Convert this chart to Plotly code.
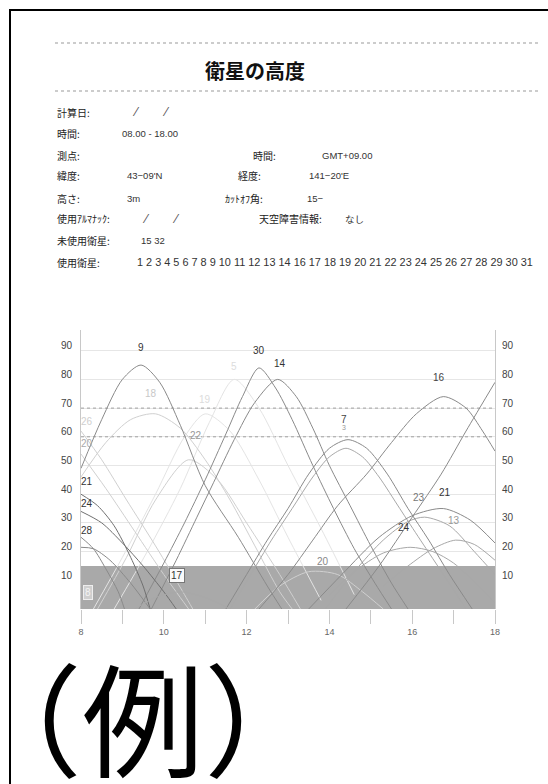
import plotly.graph_objects as go

# ---------------- data ----------------
title_text = "衛星の高度"
info_labels = ["計算日:", "時間:", "測点:", "緯度:", "高さ:", "使用ｱﾙﾏﾅｯｸ:", "未使用衛星:", "使用衛星:"]
info_values = ["", "08.00 - 18.00", "", "43−09'N", "3m", "", "15 32",
               "1 2 3 4 5 6 7 8 9 10 11 12 13 14 16 17 18 19 20 21 22 23 24 25 26 27 28 29 30 31"]
right_labels = ["時間:", "経度:", "ｶｯﾄｵﾌ角:", "天空障害情報:"]
right_values = ["GMT+09.00", "141−20'E", "15−", "なし"]
example_text = "（例）"

hours = list(range(8, 19))
hour_labels = [str(h) if h % 2 == 0 else "" for h in hours]
elev_ticks = [10, 20, 30, 40, 50, 60, 70, 80, 90]
cutoff = 15
dotted_levels = [60, 70]

# satellite elevation tracks (time in hours, elevation in degrees)
sat9_t = [8.0, 8.5, 9.0, 9.45, 9.9, 10.4, 11.0, 11.8, 12.5, 12.85]
sat9_e = [49, 66, 80, 85, 79, 64, 43, 25, 8, 0]
sat18_t = [8.0, 8.6, 9.2, 9.8, 10.4, 11.0, 11.6, 12.2, 12.8, 13.1]
sat18_e = [46, 58, 66, 68, 63, 52, 38, 22, 6, 0]
sat30_t = [9.4, 10.0, 10.5, 11.0, 11.5, 11.9, 12.3, 12.7, 13.1, 13.6, 14.1, 14.6, 15.1, 15.5]
sat30_e = [0, 16, 30, 45, 61, 74, 84, 77, 66, 50, 35, 21, 9, 0]
sat14_t = [9.7, 10.3, 10.8, 11.2, 11.7, 12.2, 12.75, 13.2, 13.6, 14.0, 14.5, 15.0, 15.5, 15.9]
sat14_e = [0, 17, 32, 44, 59, 72, 80, 74, 63, 50, 36, 22, 9, 0]
sat7_t = [11.5, 12.0, 12.5, 13.0, 13.5, 14.0, 14.45, 14.9, 15.4, 15.9, 16.4, 16.9, 17.45]
sat7_e = [0, 12, 24, 35, 47, 56, 59, 56, 47, 35, 24, 12, 0]
sat3_t = [11.6, 12.1, 12.6, 13.1, 13.6, 14.0, 14.4, 14.8, 15.2, 15.7, 16.2, 16.8, 17.3]
sat3_e = [0, 12, 24, 35, 46, 53, 56, 53, 46, 35, 24, 11, 0]
sat16_t = [12.3, 13.0, 13.6, 14.2, 14.9, 15.5, 16.1, 16.75, 17.3, 17.7, 18.0]
sat16_e = [0, 12, 24, 36, 47, 58, 68, 74, 70, 62, 55]
sat25_t = [14.4, 15.2, 16.0, 16.7, 17.3, 18.0]
sat25_e = [0, 15, 32, 47, 62, 79]
sat21r_t = [13.5, 14.3, 15.2, 16.0, 16.75, 17.4, 18.0]
sat21r_e = [0, 12, 25, 32.5, 35, 31, 23]
sat23_t = [13.9, 14.6, 15.3, 15.9, 16.3, 16.9, 17.5, 18.0]
sat23_e = [0, 13, 24, 30.5, 32, 29, 20, 12]
sat24r_t = [14.0, 14.6, 15.3, 15.95, 16.5, 17.0, 17.6, 18.0]
sat24r_e = [5, 13, 19.5, 21.5, 20, 16, 8, 2]
sat13_t = [15.3, 15.9, 16.5, 17.05, 17.5, 18.0]
sat13_e = [8, 15, 21, 24, 22.5, 17]
sat21l_t = [8.0, 8.4, 8.8, 9.2, 9.5, 9.67]
sat21l_e = [40, 36, 29, 18, 8, 0]
sat24l_t = [8.0, 8.5, 9.0, 9.5, 10.0, 10.3]
sat24l_e = [34, 30, 23, 15, 6, 0]
sat28_t = [8.0, 8.3, 8.6, 8.9, 9.05]
sat28_e = [25, 21, 14, 6, 0]
sat8_t = [8.0, 8.3, 8.7, 9.2, 9.67]
sat8_e = [21.5, 21, 17, 9, 0]
sat17_t = [9.3, 9.8, 10.4, 11.0, 11.6]
sat17_e = [0, 4, 6, 4, 0]
sat20r_t = [12.2, 12.8, 13.5, 14.2, 14.8, 15.3]
sat20r_e = [0, 8, 13, 12, 6, 0]
sat5_t = [8.8, 9.6, 10.4, 11.1, 11.7, 12.3, 13.0, 13.8, 14.6]
sat5_e = [0, 20, 42, 65, 80, 70, 50, 28, 5]
sat19_t = [8.3, 9.0, 9.8, 10.5, 11.0, 11.6, 12.3, 13.0, 13.8]
sat19_e = [0, 18, 40, 60, 68, 62, 45, 25, 3]
sat22_t = [8.4, 9.1, 9.8, 10.6, 11.3, 12.0, 12.8, 13.3]
sat22_e = [0, 18, 38, 52, 45, 30, 12, 0]
sat26_t = [8.0, 8.5, 9.1, 9.8, 10.5, 10.7]
sat26_e = [62, 52, 38, 22, 5, 0]
sat20l_t = [8.0, 8.6, 9.3, 10.0, 10.6]
sat20l_e = [54, 42, 27, 12, 0]

label_text = ["9", "18", "30", "14", "5", "19", "22", "26", "20", "21", "24", "28",
              "7", "3", "16", "23", "21", "24", "13", "20", "17", "8"]
label_t = [9.45, 9.7, 12.3, 12.8, 11.7, 11.0, 10.78, 8.15, 8.15, 8.15, 8.15, 8.15,
           14.35, 14.35, 16.64, 16.16, 16.8, 15.8, 17.0, 13.85, 10.32, 8.17]
label_e = [91, 75, 90, 85.7, 84.5, 73, 60.3, 65.2, 57.5, 44.3, 36.6, 27.2,
           66, 63.3, 80.5, 39, 40.7, 28.5, 31, 16.4, 11.8, 5.6]

# ---------------- styles ----------------
DARK, MID, LIGHT, FAINT = "#8a8a8a", "#a8a8a8", "#d0d0d0", "#e4e4e4"
tracks = [
    (sat5_t, sat5_e, FAINT), (sat19_t, sat19_e, FAINT), (sat26_t, sat26_e, LIGHT),
    (sat18_t, sat18_e, LIGHT), (sat22_t, sat22_e, LIGHT), (sat20l_t, sat20l_e, LIGHT),
    (sat20r_t, sat20r_e, LIGHT), (sat13_t, sat13_e, MID), (sat23_t, sat23_e, MID),
    (sat9_t, sat9_e, DARK), (sat30_t, sat30_e, DARK), (sat14_t, sat14_e, DARK),
    (sat7_t, sat7_e, DARK), (sat3_t, sat3_e, MID), (sat16_t, sat16_e, DARK),
    (sat25_t, sat25_e, DARK), (sat21r_t, sat21r_e, DARK), (sat24r_t, sat24r_e, MID),
    (sat21l_t, sat21l_e, "#707070"), (sat24l_t, sat24l_e, "#707070"),
    (sat28_t, sat28_e, DARK), (sat8_t, sat8_e, DARK), (sat17_t, sat17_e, MID),
]
label_colors = ["#333", "#c8c8c8", "#333", "#333", "#dcdcdc", "#dcdcdc", "#999", "#cfcfcf",
                "#aaa", "#333", "#333", "#333", "#444", "#999", "#444", "#777", "#333",
                "#333", "#999", "#888", "#333", "#f4f4f4"]

W, H = 548, 784
L, R, T, B = 81, 53, 330, 175
PW, PH = W - L - R, H - T - B
def px(x): return (x - L) / PW
def py(y): return (H - B - y) / PH

fig = go.Figure()
for t, e, c in tracks:
    fig.add_trace(go.Scatter(x=t, y=e, mode="lines", line=dict(color=c, width=1, shape="spline", smoothing=0.8),
                             hoverinfo="skip", showlegend=False, cliponaxis=True))
# invisible trace for right axis
fig.add_trace(go.Scatter(x=[hours[0]], y=[elev_ticks[0]], yaxis="y2", mode="markers",
                         marker=dict(opacity=0), showlegend=False, hoverinfo="skip"))

ann = []
for txt, t, e, c in zip(label_text, label_t, label_e, label_colors):
    a = dict(x=t, y=e, xref="x", yref="y", text=txt, showarrow=False,
             font=dict(family="Liberation Sans", size=10 if txt != "3" else 7, color=c))
    if txt == "17" and t > 10:
        a.update(bgcolor="#fafafa", bordercolor="#777", borderwidth=1, borderpad=1)
    if txt == "8" and e < 10:
        a.update(bgcolor="#cfcfcf", bordercolor="#eeeeee", borderwidth=1, borderpad=1)
    ann.append(a)

CJK = "Noto Sans CJK JP"
ann.append(dict(x=px(255), y=py(70), xref="paper", yref="paper", text="<b>" + title_text + "</b>",
                showarrow=False, xanchor="center", yanchor="middle",
                font=dict(family=CJK, size=20, color="#111")))
row_y = [112, 133, 155, 176, 198, 219, 240, 262]
val_x = [0, 120, 0, 125, 125, 0, 139, 135]
for lab, val, y, vx in zip(info_labels, info_values, row_y, val_x):
    ann.append(dict(x=px(55), y=py(y), xref="paper", yref="paper", text=lab, showarrow=False,
                    xanchor="left", yanchor="middle", font=dict(family=CJK, size=10, color="#222")))
    if val:
        ann.append(dict(x=px(vx), y=py(y), xref="paper", yref="paper", text=val, showarrow=False,
                        xanchor="left", yanchor="middle",
                        font=dict(family="Liberation Sans", size=10.9 if len(val) > 20 else 9.5, color="#333")))
for sx, y in [(136, 112), (166, 112), (146, 219), (176, 219)]:
    ann.append(dict(x=px(sx), y=py(y), xref="paper", yref="paper", text="⁄", showarrow=False,
                    xanchor="center", yanchor="middle", font=dict(family="DejaVu Sans", size=12, color="#555")))
rlab_x = [251, 236, 223, 257]
rval_x = [320, 307, 305, 343]
rrow_y = [155, 176, 198, 219]
for lab, val, lx, vx, y in zip(right_labels, right_values, rlab_x, rval_x, rrow_y):
    ann.append(dict(x=px(lx), y=py(y), xref="paper", yref="paper", text=lab, showarrow=False,
                    xanchor="left", yanchor="middle", font=dict(family=CJK, size=10, color="#222")))
    ann.append(dict(x=px(vx), y=py(y), xref="paper", yref="paper", text=val, showarrow=False,
                    xanchor="left", yanchor="middle",
                    font=dict(family=CJK if val == "なし" else "Liberation Sans", size=9.5, color="#333")))
ann.append(dict(x=px(142.5), y=py(713), xref="paper", yref="paper", text=example_text, showarrow=False,
                xanchor="center", yanchor="middle", width=232, height=132, valign="middle",
                font=dict(family=CJK, size=122, color="#000")))

shapes = [
    dict(type="rect", xref="x", yref="y", x0=hours[0], x1=hours[-1], y0=0, y1=cutoff,
         fillcolor="#a9a9a9", line=dict(width=0), layer="between"),
    dict(type="line", xref="paper", yref="paper", x0=px(10), x1=px(10), y0=py(9), y1=py(784),
         line=dict(color="#000", width=2)),
    dict(type="line", xref="paper", yref="paper", x0=px(9), x1=px(548), y0=py(10), y1=py(10),
         line=dict(color="#000", width=2)),
]
for yy in [43, 91]:
    shapes.append(dict(type="line", xref="paper", yref="paper", x0=px(55), x1=px(538), y0=py(yy), y1=py(yy),
                       line=dict(color="#999", width=1, dash="dot")))
for lv in dotted_levels:
    shapes.append(dict(type="line", xref="x", yref="y", x0=hours[0], x1=hours[-1], y0=lv, y1=lv,
                       line=dict(color="#a0a0a0", width=1, dash="dot"), layer="between"))

yr = [0, PH / 28.7 * 10]
fig.update_layout(
    width=W, height=H, margin=dict(l=L, r=R, t=T, b=B),
    paper_bgcolor="white", plot_bgcolor="white", showlegend=False,
    annotations=ann, shapes=shapes,
    xaxis=dict(range=[hours[0], hours[-1]], tickvals=hours, ticktext=hour_labels,
               ticks="outside", ticklen=14, tickcolor="#c8c8c8", tickwidth=1,
               showgrid=False, zeroline=False, showline=False,
               tickfont=dict(family="Liberation Sans", size=9, color="#666")),
    yaxis=dict(range=yr, tickvals=elev_ticks, showgrid=True, gridcolor="#e6e6e6", gridwidth=1,
               zeroline=False, showline=True, linecolor="#c8c8c8", linewidth=1, ticks="",
               ticklabelstandoff=6, ticklabelshift=-5,
               tickfont=dict(family="Liberation Sans", size=10, color="#444")),
    yaxis2=dict(range=yr, tickvals=elev_ticks, overlaying="y", side="right", showgrid=False,
                zeroline=False, showline=True, linecolor="#c8c8c8", linewidth=1, ticks="",
                ticklabelstandoff=4, ticklabelshift=-5,
                tickfont=dict(family="Liberation Sans", size=10, color="#444")),
)
fig.write_html("out.html")
